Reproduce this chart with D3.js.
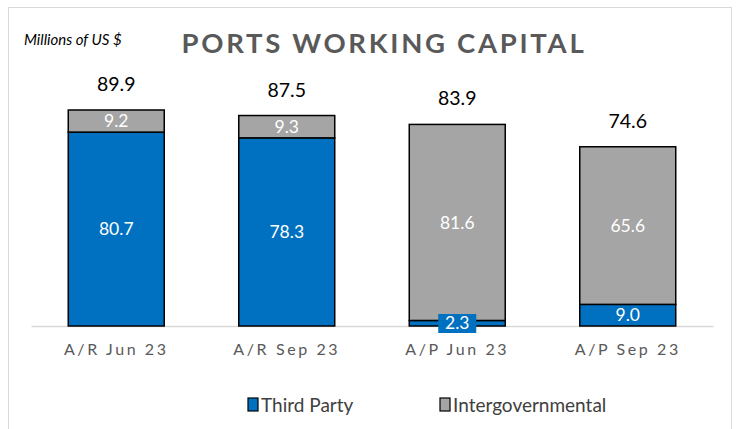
<!DOCTYPE html>
<html><head><meta charset="utf-8">
<script src="https://cdn.jsdelivr.net/npm/d3@7"></script>
<style>body{margin:0;background:#fff;} svg{display:block;}</style>
</head><body>
<script>
const categories = ["A/R Jun 23", "A/R Sep 23", "A/P Jun 23", "A/P Sep 23"];
const thirdParty = [80.7, 78.3, 2.3, 9.0];
const intergov = [9.2, 9.3, 81.6, 65.6];
const totals = [89.9, 87.5, 83.9, 74.6];
const seriesNames = ["Third Party", "Intergovernmental"];
const colors = ["#0070C0", "#A5A5A5"];

const W = 740, H = 429;
const svg = d3.select("body").append("svg").attr("width", W).attr("height", H);
const font = "Lato, 'Open Sans', sans-serif";

svg.append("rect").attr("x", 8.5).attr("y", 7.5).attr("width", 723).attr("height", 440)
  .attr("fill", "#fff").attr("stroke", "#d9d9d9");

const x = d3.scaleBand().domain(categories).range([31, 713]).paddingInner(0.437).paddingOuter(0.2185);
const y = d3.scaleLinear().domain([0, 89.9]).range([326, 110]);

const rows = categories.map((c, i) => ({cat: c, tp: thirdParty[i], ig: intergov[i], total: totals[i]}));
const stack = d3.stack().keys(["tp", "ig"])(rows);

// axis first (behind bars and labels)
const xAxis = d3.axisBottom(x).tickSize(0).tickPadding(18);
const ax = svg.append("g").attr("transform", "translate(0,326)").call(xAxis);
ax.select(".domain").attr("stroke", "#d9d9d9").attr("stroke-width", 1.5);
ax.selectAll("text").attr("font-family", font).attr("font-size", 16).attr("fill", "#595959")
  .attr("letter-spacing", "2.6px");

const g = svg.append("g");
stack.forEach((s, si) => {
  g.selectAll(null).data(s).enter().append("rect")
    .attr("x", d => x(d.data.cat))
    .attr("y", d => y(d[1]))
    .attr("width", x.bandwidth())
    .attr("height", d => y(d[0]) - y(d[1]))
    .attr("fill", colors[si])
    .attr("stroke", "#000").attr("stroke-width", 1.5);
});

// segment labels
stack.forEach((s, si) => {
  s.forEach(d => {
    const val = si === 0 ? d.data.tp : d.data.ig;
    const cx = x(d.data.cat) + x.bandwidth() / 2;
    let cy = (y(d[0]) + y(d[1])) / 2;
    const small = si === 0 && val < 5;
    if (small) {
      cy = y(0) - 3;
      g.append("rect").attr("x", cx - 19).attr("y", cy - 9).attr("width", 38).attr("height", 19)
        .attr("fill", colors[0]);
    }
    g.append("text").attr("x", cx).attr("y", cy).attr("dy", "0.36em")
      .attr("text-anchor", "middle").attr("font-family", font).attr("font-size", 17.5)
      .attr("fill", "#fff").text(val.toFixed(1));
  });
});

// totals
g.selectAll(null).data(rows).enter().append("text")
  .attr("x", d => x(d.cat) + x.bandwidth() / 2)
  .attr("y", d => y(d.total) - 26).attr("dy", "0.36em")
  .attr("text-anchor", "middle").attr("font-family", font).attr("font-size", 19.5)
  .attr("fill", "#000").text(d => d.total.toFixed(1));

// title
svg.append("text").attr("x", 384).attr("y", 53).attr("text-anchor", "middle")
  .attr("font-family", font).attr("font-weight", "bold").attr("font-size", 27.5)
  .attr("letter-spacing", "2.7px").attr("fill", "#595959").text("PORTS WORKING CAPITAL");
svg.append("text").attr("x", 24).attr("y", 45).attr("font-family", font).attr("font-style", "italic")
  .attr("font-size", 15).attr("fill", "#000").text("Millions of US $");

// legend
const legX = [248, 440];
seriesNames.forEach((n, i) => {
  svg.append("rect").attr("x", legX[i]).attr("y", 398).attr("width", 10).attr("height", 13)
    .attr("fill", colors[i]).attr("stroke", "#000").attr("stroke-width", 1.2);
  svg.append("text").attr("x", legX[i] + 13).attr("y", 405).attr("dy", "0.36em")
    .attr("font-family", font).attr("font-size", 19).attr("fill", "#404040").text(n);
});
</script>
</body></html>
